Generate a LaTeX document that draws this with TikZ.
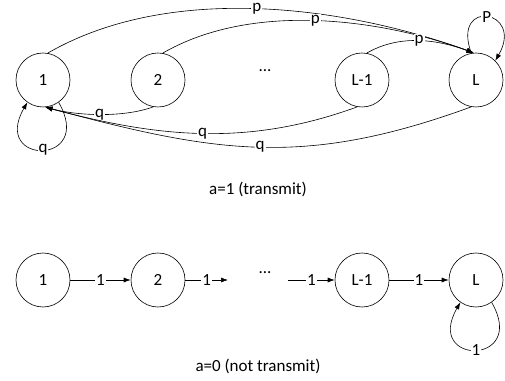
\documentclass[tikz,border=0pt]{standalone}
\usepackage{fontspec}
\setmainfont{Carlito}
\usetikzlibrary{positioning,arrows.meta}

\begin{document}
\begin{tikzpicture}[x=1pt, y=1pt, line width=0.6pt,
  font=\fontsize{17}{20}\selectfont,
  state/.style={shape=circle, draw=black, minimum size=54pt, inner sep=0pt},
  lbl/.style={fill=white, inner sep=1pt},
  arr/.style={-{Latex[length=7pt,width=5pt]}}]
\useasboundingbox (0,0) rectangle (505,380);
% a=1
\node[state] (A1) at (43,300) {1};
\node[state] (A2) at (158,300) {2};
\node (Adots) at (265,309) {...};
\node[state] (A3) at (362,300) {L-1};
\node[state] (A4) at (476,300) {L};
\draw[arr] (A1.80) to[out=30, in=160, looseness=0.84] node[lbl] {p} (A4.95);
\draw[arr] (A2.80) to[out=30, in=160, looseness=0.84] node[lbl] {p} (A4.95);
\draw[arr] (A3.80) to[out=30, in=160, looseness=0.92] node[lbl] {p} (A4.95);
\draw[arr] (A4.100) to[out=110, in=60, looseness=6] node[lbl] {P} (A4.45);
\draw[arr] (A2.-100) to[out=-160, in=-15, looseness=0.77] node[lbl] {q} (A1.-85);
\draw[arr] (A3.-100) to[out=-160, in=-15, looseness=0.96] node[lbl] {q} (A1.-85);
\draw[arr] (A4.-100) to[out=-160, in=-15, looseness=1.07] node[lbl] {q} (A1.-85);
\draw[arr] (A1.-55) to[out=-60, in=-120, looseness=6] node[lbl] {q} (A1.-125);
\node (Acap) at (258,191) {a=1 (transmit)};
% a=0
\node[state] (B1) at (43,100) {1};
\node[state] (B2) at (158,100) {2};
\coordinate (Bgo) at (228,100);
\node (Bdots) at (265,107) {...};
\coordinate (Bin) at (288,100);
\node[state] (B3) at (362,100) {L-1};
\node[state] (B4) at (476,100) {L};
\draw[arr] (B1) -- node[lbl] {1} (B2);
\draw[arr] (B2) -- node[lbl] {1} (Bgo);
\draw[arr] (Bin) -- node[lbl] {1} (B3);
\draw[arr] (B3) -- node[lbl] {1} (B4);
\draw[arr] (B4.-55) to[out=-60, in=-120, looseness=6] node[lbl] {1} (B4.-125);
\node (Bcap) at (258,14) {a=0 (not transmit)};
\end{tikzpicture}
\end{document}
